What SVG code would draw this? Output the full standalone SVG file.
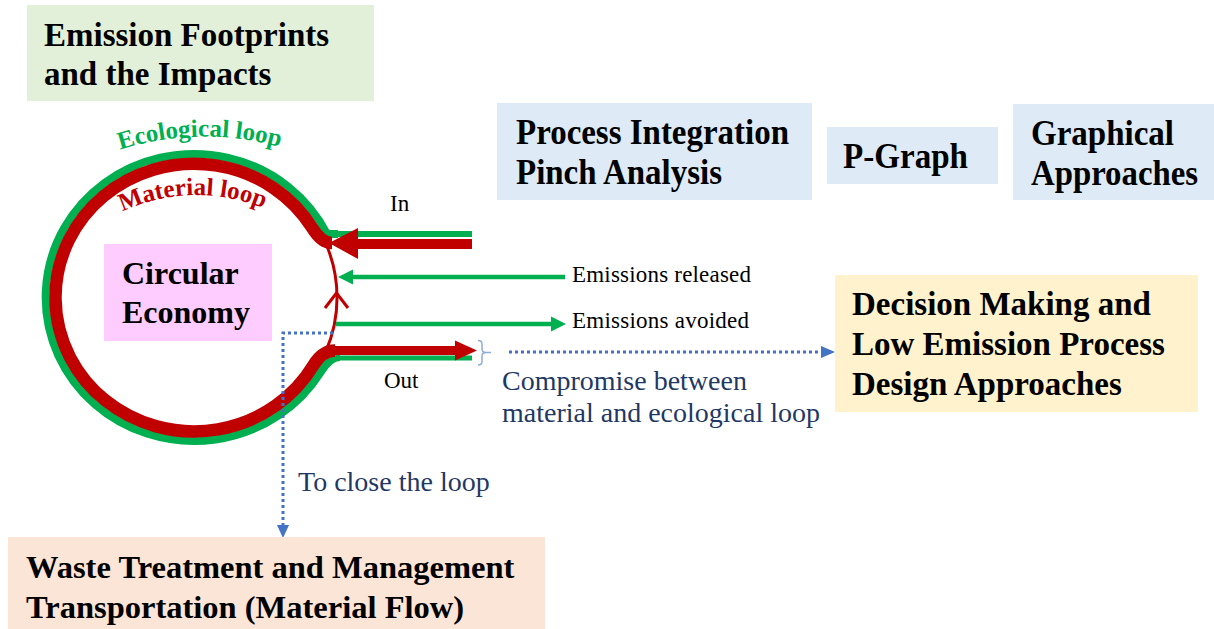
<svg xmlns="http://www.w3.org/2000/svg" width="1214" height="629" viewBox="0 0 1214 629">
  <style>
    .lbl { font-family: "Liberation Serif", "Times New Roman", serif; font-weight: bold; fill: #000; }
    .big { font-size: 33px; }
    .tall { font-size: 36px; }
    .small { font-family: "Liberation Serif", "Times New Roman", serif; font-size: 23px; fill: #000; }
    .note { font-family: "Liberation Serif", "Times New Roman", serif; font-size: 28px; fill: #1F3864; }
    .arcText { font-family: "Liberation Serif", "Times New Roman", serif; font-weight: bold; font-size: 25px; }
    .green { stroke: #00B050; fill: none; }
    .red { stroke: #C00000; fill: none; }
    .dots { stroke: #4472C4; stroke-width: 3; stroke-dasharray: 3 3; fill: none; }
  </style>
  <defs>
    <path id="ecoArc" d="M 110 153 A 280 280 0 0 1 290 150"/>
    <path id="matArc" d="M 112 217 A 175 175 0 0 1 274 213"/>
  </defs>

  <rect width="1214" height="629" fill="#FFFFFF"/>

  <!-- Flows around the circular economy -->
  <g id="connectors">
    <!-- ecological loop (outer ring) with its in/out legs -->
    <path class="green" stroke-width="8" stroke-linejoin="round" d="M 338 234 H 327 A 148.3 143.5 0 1 0 320.7 372 Q 330 357 340 357"/>
    <line class="green" stroke-width="6" x1="336" y1="234" x2="472" y2="234"/>
    <line class="green" stroke-width="5" x1="336" y1="358" x2="472" y2="358"/>

    <!-- material loop (inner ring) -->
    <path class="red" stroke-width="12.5" d="M 332 243 Q 321.5 243 312.3 228 A 138.5 133.8 0 1 0 313.6 365 Q 322.4 350.5 335 350.5"/>
    <path class="red" stroke-width="3" d="M 325.6 243 A 143 139 0 0 1 325.6 352"/>
    <polyline class="red" stroke-width="3" points="325,308 336.5,293 348,308"/>

    <!-- material in -->
    <line class="red" stroke-width="10" x1="354" y1="244" x2="472" y2="244"/>
    <polygon fill="#C00000" points="329,243 358,228 358,259"/>
    <!-- material out -->
    <line class="red" stroke-width="9" x1="330" y1="350.5" x2="458" y2="350.5"/>
    <polygon fill="#C00000" points="477,350.5 455,340.5 455,360.5"/>

    <!-- emissions released -->
    <line class="green" stroke-width="4.5" x1="350" y1="277" x2="565" y2="277"/>
    <polygon fill="#00B050" points="338,277 353,269.5 353,284.5"/>
    <!-- emissions avoided -->
    <line class="green" stroke-width="4.5" x1="336" y1="324" x2="553" y2="324"/>
    <polygon fill="#00B050" points="566,324 551,316.5 551,331.5"/>

    <!-- brace over the two outputs -->
    <path d="M 478 340.5 Q 482 340.5 482 344 V 349 Q 482 352.5 486 352.5 H 491 M 486 352.5 Q 482 352.5 482 356 V 361.5 Q 482 365 478 365" fill="none" stroke="#8FAADC" stroke-width="1.5"/>

    <!-- compromise link -->
    <line class="dots" x1="509" y1="352" x2="822" y2="352"/>
    <polygon fill="#4472C4" points="835,352 821,346 821,358"/>

    <!-- closing the loop -->
    <path class="dots" d="M 333 333 H 283 V 526"/>
    <polygon fill="#4472C4" points="283,538 277,525 289,525"/>
  </g>

  <!-- ring captions -->
  <text class="arcText" fill="#00B050"><textPath href="#ecoArc" startOffset="50%" text-anchor="middle">Ecological loop</textPath></text>
  <text class="arcText" fill="#C00000"><textPath href="#matArc" startOffset="50%" text-anchor="middle">Material loop</textPath></text>

  <!-- flow labels -->
  <text class="small" x="390" y="211">In</text>
  <text class="small" x="384" y="388">Out</text>
  <text class="small" x="572" y="282" textLength="179">Emissions released</text>
  <text class="small" x="572" y="328" textLength="177">Emissions avoided</text>
  <text class="note" x="502" y="390">Compromise between</text>
  <text class="note" x="502" y="422">material and ecological loop</text>
  <text class="note" x="298" y="491">To close the loop</text>

  <g id="emission-footprints">
    <rect x="27" y="5" width="347" height="96" fill="#E2F0D9"/>
    <text class="lbl big" x="44" y="46">Emission Footprints</text>
    <text class="lbl big" x="44" y="85">and the Impacts</text>
  </g>

  <g id="process-integration">
    <rect x="497" y="103" width="315" height="97" fill="#DEEBF7"/>
    <text class="lbl tall" x="516" y="144" textLength="273" lengthAdjust="spacingAndGlyphs">Process Integration</text>
    <text class="lbl tall" x="516" y="184" textLength="206" lengthAdjust="spacingAndGlyphs">Pinch Analysis</text>
  </g>

  <g id="p-graph">
    <rect x="827" y="127" width="171" height="57" fill="#DEEBF7"/>
    <text class="lbl tall" x="843" y="168" textLength="125" lengthAdjust="spacingAndGlyphs">P-Graph</text>
  </g>

  <g id="graphical-approaches">
    <rect x="1013" y="104" width="201" height="96" fill="#DEEBF7"/>
    <text class="lbl tall" x="1031" y="145" textLength="143" lengthAdjust="spacingAndGlyphs">Graphical</text>
    <text class="lbl tall" x="1031" y="185" textLength="167" lengthAdjust="spacingAndGlyphs">Approaches</text>
  </g>

  <g id="circular-economy">
    <rect x="104" y="244" width="168" height="97" fill="#FFCCFF"/>
    <text class="lbl" font-size="32" x="122" y="284">Circular</text>
    <text class="lbl" font-size="32" x="122" y="323">Economy</text>
  </g>

  <g id="decision-making">
    <rect x="835" y="275" width="363" height="137" fill="#FFF2CC"/>
    <text class="lbl big" x="852" y="315">Decision Making and</text>
    <text class="lbl big" x="852" y="355">Low Emission Process</text>
    <text class="lbl big" x="852" y="395">Design Approaches</text>
  </g>

  <g id="waste-treatment">
    <rect x="8" y="537" width="537" height="92" fill="#FBE5D6"/>
    <text class="lbl" font-size="32.5" x="26" y="578">Waste Treatment and Management</text>
    <text class="lbl" font-size="32.5" x="26" y="618">Transportation (Material Flow)</text>
  </g>
</svg>
